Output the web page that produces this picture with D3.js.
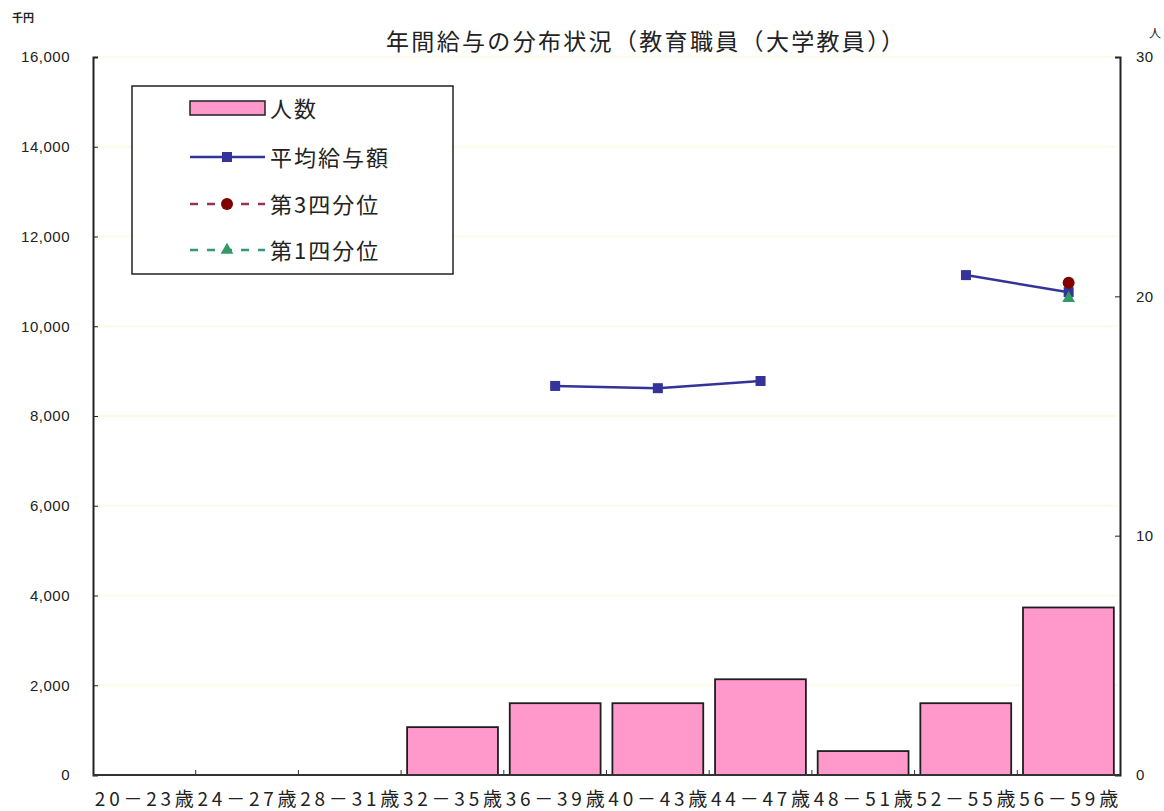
<!DOCTYPE html>
<html>
<head>
<meta charset="utf-8">
<script src="https://cdn.jsdelivr.net/npm/d3@7"></script>
<style>
  body { margin: 0; background: #fff; }
  text { font-family: "Noto Sans CJK JP", sans-serif; fill: #222; }
  .num { font-family: "Liberation Sans", Arial, sans-serif; }
</style>
</head>
<body>
<svg id="chart" width="1164" height="811"></svg>
<script>
// Chart data
var categories = ['20－23歳', '24－27歳', '28－31歳', '32－35歳', '36－39歳',
                  '40－43歳', '44－47歳', '48－51歳', '52－55歳', '56－59歳'];
var counts = [0, 0, 0, 2, 3, 3, 4, 1, 3, 7];
var avgSalary = [null, null, null, null, 8670, 8620, 8780, null, 11140, 10760];
var q3Salary = [null, null, null, null, null, null, null, null, null, 10970];
var q1Salary = [null, null, null, null, null, null, null, null, null, 10620];
var leftTicks = [0, 2000, 4000, 6000, 8000, 10000, 12000, 14000, 16000];
var rightTicks = [0, 10, 20, 30];

var margin = { top: 57, right: 44, bottom: 36, left: 93 };
var svg = d3.select('#chart');
var width = +svg.attr('width');
var height = +svg.attr('height');
var x0 = margin.left, x1 = width - margin.right;
var y0 = height - margin.bottom, y1 = margin.top;

var xScale = d3.scaleBand().domain(categories).range([x0, x1]).paddingInner(0.115).paddingOuter(0.06);
var xBand = d3.scaleBand().domain(categories).range([x0, x1]);
var yLeft = d3.scaleLinear().domain([0, 16000]).range([y0, y1]);
var yRight = d3.scaleLinear().domain([0, 30]).range([y0, y1]);

// faint gridlines
svg.append('g').selectAll('line')
    .data(leftTicks.slice(1))
    .enter()
  .append('line')
    .attr('x1', x0 + 2).attr('x2', x1 - 2)
    .attr('y1', function (d) { return yLeft(d); })
    .attr('y2', function (d) { return yLeft(d); })
    .attr('stroke', '#fbfbe8')
    .attr('stroke-width', 2);

// bars
svg.append('g').selectAll('rect')
    .data(counts)
    .enter()
  .append('rect')
    .attr('x', function (d, i) { return xScale(categories[i]); })
    .attr('width', xScale.bandwidth())
    .attr('y', function (d) { return yRight(d); })
    .attr('height', function (d) { return y0 - yRight(d); })
    .attr('fill', '#ff99cc')
    .attr('stroke', d3.rgb(30, 30, 30))
    .attr('stroke-width', function (d) { return d > 0 ? 1.8 : 0; });

// axes
var leftAxis = d3.axisLeft(yLeft).tickValues(leftTicks).tickSize(-5).tickPadding(23)
  .tickFormat(d3.format(','));
svg.append('g')
    .attr('transform', 'translate(' + x0 + ',0)')
    .call(leftAxis)
    .call(function (g) {
      g.select('.domain').attr('stroke', '#222').attr('stroke-width', 2);
      g.selectAll('.tick line').attr('stroke', '#222');
      g.selectAll('.tick text').attr('class', 'num').style('font-size', '15px')
        .style('letter-spacing', '0.5px').style('fill', '#222');
    });

var rightAxis = d3.axisRight(yRight).tickValues(rightTicks).tickSize(-5).tickPadding(16);
svg.append('g')
    .attr('transform', 'translate(' + x1 + ',0)')
    .call(rightAxis)
    .call(function (g) {
      g.select('.domain').attr('stroke', '#222').attr('stroke-width', 2);
      g.selectAll('.tick line').attr('stroke', '#222');
      g.selectAll('.tick text').attr('class', 'num').style('font-size', '15px')
        .style('letter-spacing', '0.5px').style('fill', '#222');
    });

// bottom axis with boundary ticks
svg.append('line')
    .attr('x1', x0).attr('x2', x1).attr('y1', y0).attr('y2', y0)
    .attr('stroke', '#333').attr('stroke-width', 2);
svg.append('g').selectAll('line')
    .data(categories.slice(1))
    .enter()
  .append('line')
    .attr('x1', function (d) { return xBand(d); })
    .attr('x2', function (d) { return xBand(d); })
    .attr('y1', y0).attr('y2', y0 - 5)
    .attr('stroke', '#333');
svg.append('g').selectAll('text')
    .data(categories)
    .enter()
  .append('text')
    .attr('x', function (d) { return xBand(d) + xBand.bandwidth() / 2; })
    .attr('y', y0 + 31)
    .attr('text-anchor', 'middle')
    .attr('textLength', 99)
    .attr('lengthAdjust', 'spacing')
    .style('font-size', '19px')
    .text(function (d) { return d; });

// lines
var line = d3.line()
  .defined(function (d) { return d != null; })
  .x(function (d, i) { return xBand(categories[i]) + xBand.bandwidth() / 2; })
  .y(function (d) { return yLeft(d); });

function cx(i) { return xBand(categories[i]) + xBand.bandwidth() / 2; }

svg.append('path')
    .datum(avgSalary)
    .attr('d', line)
    .attr('fill', 'none')
    .attr('stroke', '#333399')
    .attr('stroke-width', 2.5);

svg.append('g').selectAll('rect')
    .data(avgSalary.map(function (v, i) { return { v: v, i: i }; }).filter(function (d) { return d.v != null; }))
    .enter()
  .append('rect')
    .attr('x', function (d) { return cx(d.i) - 5; })
    .attr('y', function (d) { return yLeft(d.v) - 5; })
    .attr('width', 10).attr('height', 10)
    .attr('fill', '#333399');

svg.append('g').selectAll('path')
    .data(q1Salary.map(function (v, i) { return { v: v, i: i }; }).filter(function (d) { return d.v != null; }))
    .enter()
  .append('path')
    .attr('d', d3.symbol(d3.symbolTriangle, 70))
    .attr('transform', function (d) { return 'translate(' + cx(d.i) + ',' + yLeft(d.v) + ')'; })
    .attr('fill', '#339966');

svg.append('g').selectAll('circle')
    .data(q3Salary.map(function (v, i) { return { v: v, i: i }; }).filter(function (d) { return d.v != null; }))
    .enter()
  .append('circle')
    .attr('cx', function (d) { return cx(d.i); })
    .attr('cy', function (d) { return yLeft(d.v); })
    .attr('r', 6)
    .attr('fill', '#800000');

// titles and unit labels
svg.append('text')
    .attr('x', 645).attr('y', 50)
    .attr('text-anchor', 'middle')
    .attr('textLength', 518)
    .attr('lengthAdjust', 'spacing')
    .style('font-size', '23px')
    .text('年間給与の分布状況（教育職員（大学教員））');
svg.append('text')
    .attr('x', 12).attr('y', 22)
    .style('font-size', '11px').style('font-weight', 'bold')
    .text('千円');
svg.append('text')
    .attr('x', 1149).attr('y', 38)
    .style('font-size', '12px')
    .text('人');

// legend
var legend = svg.append('g').attr('transform', 'translate(132,86)');
legend.append('rect')
    .attr('width', 321).attr('height', 188)
    .attr('fill', '#fff').attr('stroke', '#222').attr('stroke-width', 1.5);

var items = [
  { name: '人数', type: 'bar' },
  { name: '平均給与額', type: 'avg' },
  { name: '第3四分位', type: 'q3' },
  { name: '第1四分位', type: 'q1' }
];
var rowY = [22, 71, 118, 164];
items.forEach(function (it, i) {
  var g = legend.append('g').attr('transform', 'translate(0,' + rowY[i] + ')');
  if (it.type === 'bar') {
    g.append('rect').attr('x', 58).attr('y', -7).attr('width', 75).attr('height', 14)
      .attr('fill', '#ff99cc').attr('stroke', '#222').attr('stroke-width', 1.5);
  } else if (it.type === 'avg') {
    g.append('line').attr('x1', 58).attr('x2', 133).attr('y1', 0).attr('y2', 0)
      .attr('stroke', '#333399').attr('stroke-width', 2.5);
    g.append('rect').attr('x', 90).attr('y', -5).attr('width', 10).attr('height', 10).attr('fill', '#333399');
  } else {
    var col = it.type === 'q3' ? '#993355' : '#339977';
    g.append('line').attr('x1', 58).attr('x2', 133).attr('y1', 0).attr('y2', 0)
      .attr('stroke', col).attr('stroke-width', 2.5).attr('stroke-dasharray', '8,9');
    if (it.type === 'q3') {
      g.append('circle').attr('cx', 95).attr('cy', 0).attr('r', 6).attr('fill', '#800000');
    } else {
      g.append('path').attr('d', d3.symbol(d3.symbolTriangle, 70))
        .attr('transform', 'translate(95,0)').attr('fill', '#339966');
    }
  }
  g.append('text').attr('x', 138).attr('y', 9)
    .style('font-size', '22px')
    .style('letter-spacing', '2px')
    .text(it.name);
});
</script>
</body>
</html>
